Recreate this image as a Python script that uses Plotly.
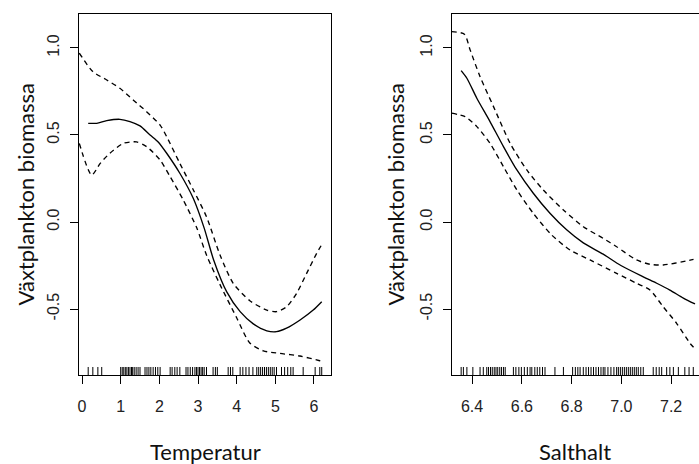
import plotly.graph_objects as go

# ---------------- data ----------------
# Temperatur panel
temp_fit_x = [0.16, 0.38, 0.64, 0.98, 1.24, 1.50, 1.76, 1.97, 2.19, 2.53, 2.88, 3.16, 3.40, 3.74, 4.09, 4.43, 4.78, 5.03, 5.29, 5.64, 5.98, 6.20]
temp_fit_y = [0.567, 0.567, 0.582, 0.59, 0.577, 0.552, 0.50, 0.46, 0.395, 0.28, 0.135, -0.035, -0.215, -0.40, -0.515, -0.585, -0.625, -0.63, -0.61, -0.563, -0.506, -0.458]

temp_up_x = [-0.07, 0.28, 0.64, 0.98, 1.33, 1.67, 2.02, 2.19, 2.53, 2.88, 3.22, 3.57, 3.91, 4.34, 4.78, 5.03, 5.29, 5.55, 5.81, 6.07, 6.20]
temp_up_y = [0.97, 0.864, 0.816, 0.768, 0.70, 0.634, 0.557, 0.49, 0.337, 0.184, 0.03, -0.19, -0.352, -0.452, -0.506, -0.515, -0.487, -0.41, -0.295, -0.18, -0.13]

temp_lo_x = [-0.07, 0.25, 0.47, 0.72, 1.07, 1.41, 1.67, 2.02, 2.28, 2.62, 2.97, 3.22, 3.57, 4.00, 4.34, 4.69, 5.12, 5.64, 6.15, 6.20]
temp_lo_y = [0.452, 0.27, 0.337, 0.395, 0.452, 0.46, 0.433, 0.356, 0.26, 0.126, -0.035, -0.19, -0.36, -0.55, -0.695, -0.74, -0.755, -0.77, -0.797, -0.80]

temp_rug = [0.16, 0.28, 0.41, 0.51,
            1.00, 1.04, 1.08, 1.12, 1.16, 1.20, 1.24, 1.28, 1.31, 1.35, 1.40, 1.45, 1.50,
            1.63, 1.68, 1.73, 1.78, 1.84, 1.90, 1.96, 2.02,
            2.28, 2.33, 2.40, 2.46, 2.53,
            2.69, 2.74, 2.80, 2.86, 2.92, 2.96, 3.00, 3.04, 3.08, 3.12, 3.16, 3.22,
            3.39, 3.45, 3.50,
            3.78, 3.84, 3.90,
            4.09, 4.16, 4.24, 4.32, 4.42,
            4.52, 4.57, 4.62, 4.67, 4.72, 4.77, 4.82, 4.87, 4.92, 4.97, 5.03,
            5.16, 5.24, 5.32, 5.40, 5.46,
            5.72, 6.03, 6.15, 6.20]

# Salthalt panel
salt_fit_x = [6.356, 6.379, 6.419, 6.472, 6.526, 6.58, 6.646, 6.713, 6.78, 6.847, 6.927, 6.998, 7.088, 7.142, 7.195, 7.249, 7.296]
salt_fit_y = [0.87, 0.826, 0.711, 0.577, 0.433, 0.299, 0.165, 0.05, -0.045, -0.12, -0.185, -0.25, -0.315, -0.352, -0.391, -0.437, -0.471]

salt_up_x = [6.318, 6.369, 6.392, 6.432, 6.486, 6.553, 6.62, 6.686, 6.767, 6.847, 6.927, 6.981, 7.061, 7.115, 7.168, 7.262, 7.29]
salt_up_y = [1.094, 1.079, 0.989, 0.835, 0.663, 0.452, 0.299, 0.184, 0.069, -0.027, -0.094, -0.142, -0.218, -0.243, -0.247, -0.224, -0.215]

salt_lo_x = [6.318, 6.372, 6.419, 6.472, 6.526, 6.58, 6.646, 6.72, 6.794, 6.874, 6.981, 7.061, 7.115, 7.168, 7.222, 7.276, 7.29]
salt_lo_y = [0.625, 0.605, 0.548, 0.452, 0.318, 0.184, 0.05, -0.075, -0.161, -0.218, -0.295, -0.352, -0.391, -0.487, -0.582, -0.697, -0.72]

salt_rug = [6.356, 6.365, 6.379, 6.403, 6.432, 6.445,
            6.459, 6.466, 6.474, 6.481, 6.489, 6.496, 6.503, 6.511, 6.518, 6.526, 6.533,
            6.566, 6.576, 6.588, 6.598, 6.61, 6.622, 6.633,
            6.64, 6.652, 6.662, 6.672, 6.683, 6.693,
            6.733, 6.767,
            6.804, 6.815, 6.825, 6.834,
            6.847, 6.858, 6.868, 6.878, 6.888, 6.898, 6.908, 6.918, 6.927,
            6.934, 6.946, 6.958, 6.97, 6.981,
            6.988, 6.996, 7.004, 7.012, 7.02, 7.028, 7.036, 7.044, 7.052, 7.06, 7.068, 7.078, 7.088,
            7.128, 7.14, 7.152, 7.162,
            7.182, 7.195, 7.209, 7.229,
            7.255, 7.272, 7.289]

y_tickvals = [-0.5, 0.0, 0.5, 1.0]
y_ticktext = ["-0.5", "0.0", "0.5", "1.0"]
temp_tickvals = [0, 1, 2, 3, 4, 5, 6]
salt_tickvals = [6.4, 6.6, 6.8, 7.0, 7.2]
salt_ticktext = ["6.4", "6.6", "6.8", "7.0", "7.2"]

Y_RANGE = [-0.879, 1.195]
RUG_LEN = 0.046

# ---------------- figure ----------------
W, H = 699, 464
fig = go.Figure()
LW = 1.35
DASH = "5px,4px"


def rug_xy(vals):
    xs, ys = [], []
    for v in vals:
        xs += [v, v, None]
        ys += [Y_RANGE[0], Y_RANGE[0] + RUG_LEN, None]
    return xs, ys


for xa, ya, fx, fy, ux, uy, lx, ly, rug in [
    ("x", "y", temp_fit_x, temp_fit_y, temp_up_x, temp_up_y, temp_lo_x, temp_lo_y, temp_rug),
    ("x2", "y2", salt_fit_x, salt_fit_y, salt_up_x, salt_up_y, salt_lo_x, salt_lo_y, salt_rug),
]:
    fig.add_trace(go.Scatter(x=fx, y=fy, mode="lines", xaxis=xa, yaxis=ya,
                             line=dict(color="black", width=LW, shape="spline", smoothing=0.7),
                             showlegend=False))
    fig.add_trace(go.Scatter(x=ux, y=uy, mode="lines", xaxis=xa, yaxis=ya,
                             line=dict(color="black", width=LW, dash=DASH, shape="spline", smoothing=0.7),
                             showlegend=False))
    fig.add_trace(go.Scatter(x=lx, y=ly, mode="lines", xaxis=xa, yaxis=ya,
                             line=dict(color="black", width=LW, dash=DASH, shape="spline", smoothing=0.7),
                             showlegend=False))
    rx, ry = rug_xy(rug)
    fig.add_trace(go.Scatter(x=rx, y=ry, mode="lines", xaxis=xa, yaxis=ya,
                             line=dict(color="black", width=1), showlegend=False))

tick_font = dict(family="Liberation Sans, Arial", size=16, color="#222")
axis_common = dict(showgrid=False, zeroline=False, ticks="outside", ticklen=8, tickwidth=1.2,
                   tickcolor="black", linecolor="black", linewidth=1.4, tickfont=tick_font)

L0, L1 = 79 / W, 331 / W
R0, R1 = 451.7 / W, 1.0

fig.update_layout(
    width=W, height=H,
    margin=dict(l=0, r=0, t=14, b=89),
    paper_bgcolor="white", plot_bgcolor="white",
    xaxis=dict(domain=[L0, L1], range=[-0.078, 6.44], tickvals=temp_tickvals,
               showline=True, mirror=True, anchor="y", ticklabelstandoff=9, **axis_common),
    yaxis=dict(domain=[0, 1], range=Y_RANGE, tickvals=y_tickvals, ticktext=y_ticktext,
               tickangle=-90, showline=True, mirror=True, anchor="x", ticklabelstandoff=4, **axis_common),
    xaxis2=dict(domain=[R0, R1], range=[6.318, 7.312], tickvals=salt_tickvals, ticktext=salt_ticktext,
                showline=True, mirror=True, anchor="y2", ticklabelstandoff=9, **axis_common),
    yaxis2=dict(domain=[0, 1], range=Y_RANGE, tickvals=y_tickvals, ticktext=y_ticktext,
                tickangle=-90, showline=True, mirror=False, anchor="x2", ticklabelstandoff=4, **axis_common),
)

title_font = dict(family="Lato, Carlito, sans-serif", size=22, color="#111")
fig.add_annotation(text="Temperatur", xref="paper", yref="paper", x=205 / W, y=0,
                   yshift=-76, yanchor="middle", xanchor="center", showarrow=False, font=title_font)
fig.add_annotation(text="Salthalt", xref="paper", yref="paper", x=575 / W, y=0,
                   yshift=-76, yanchor="middle", xanchor="center", showarrow=False, font=title_font)
fig.add_annotation(text="Växtplankton biomassa", xref="paper", yref="paper", x=25 / W, y=0.5,
                   textangle=-90, xanchor="center", yanchor="middle", showarrow=False, font=title_font)
fig.add_annotation(text="Växtplankton biomassa", xref="paper", yref="paper", x=395 / W, y=0.5,
                   textangle=-90, xanchor="center", yanchor="middle", showarrow=False, font=title_font)

fig.write_html("out.html", config={"displayModeBar": False},
               post_script="document.body.style.margin='0px';document.body.style.overflow='hidden';")
